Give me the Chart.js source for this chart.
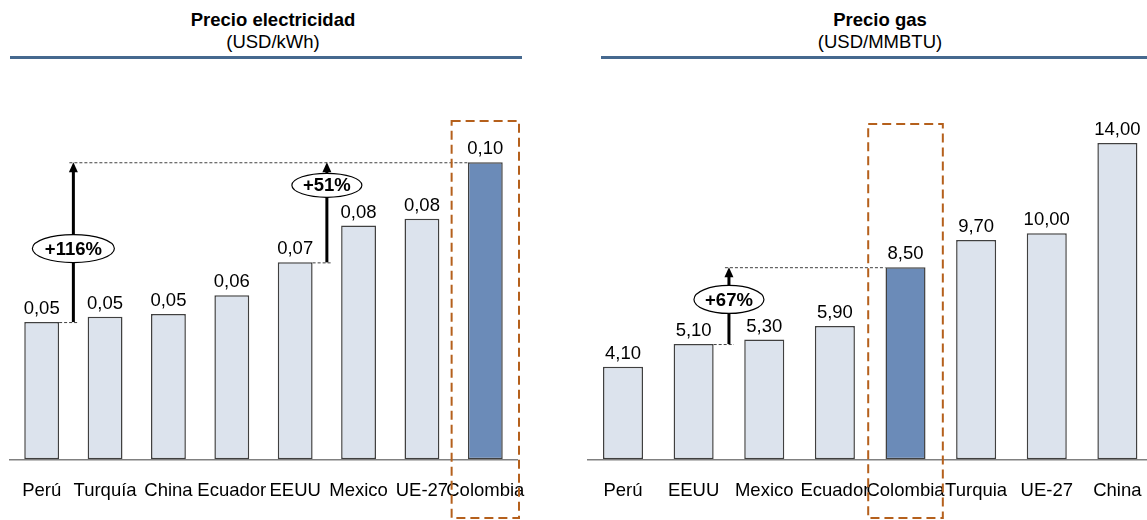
<!DOCTYPE html>
<html>
<head>
<meta charset="utf-8">
<script src="https://cdn.jsdelivr.net/npm/chart.js@4.4.1/dist/chart.umd.min.js"></script>
<style>
  html, body { margin: 0; padding: 0; background: #fff; overflow: hidden; }
  #wrap { position: relative; width: 1147px; height: 520px; overflow: hidden; }
  canvas { position: absolute; top: 0; }
  .title {
    position: absolute; top: 8.6px;
    font-family: "Liberation Sans", Arial, sans-serif; font-size: 18.5px; line-height: 22px;
    color: #000; text-align: center; white-space: nowrap; transform: translateX(-50%);
  }
  .title b { font-weight: bold; }
  .rule { position: absolute; top: 56px; height: 3px; background: #46698f; }
</style>
</head>
<body>
<div id="wrap">
  <div class="title" style="left:273px"><b>Precio electricidad</b><br>(USD/kWh)</div>
  <div class="rule" style="left:10px;width:512px"></div>
  <div class="title" style="left:880px"><b>Precio gas</b><br>(USD/MMBTU)</div>
  <div class="rule" style="left:601px;width:560px"></div>
  <canvas id="elec" width="560" height="540" style="left:0"></canvas>
  <canvas id="gas" width="600" height="540" style="left:580px"></canvas>
</div>
<script>
// Electricity price, USD/kWh
const elecCountries = ['Perú', 'Turquía', 'China', 'Ecuador', 'EEUU', 'Mexico', 'UE-27', 'Colombia'];
const elecPrices = [0.0462, 0.048, 0.0489, 0.0552, 0.0663, 0.0787, 0.081, 0.10];

// Gas price, USD/MMBTU
const gasCountries = ['Perú', 'EEUU', 'Mexico', 'Ecuador', 'Colombia', 'Turquia', 'UE-27', 'China'];
const gasPrices = [4.10, 5.10, 5.30, 5.90, 8.50, 9.70, 10.00, 14.00];

// Country highlighted in both charts and the countries it is compared against
const focusCountry = 'Colombia';
const elecBaselines = ['Perú', 'EEUU'];
const gasBaselines = ['EEUU'];

const FONT = '"Liberation Sans", Arial, sans-serif';
const LIGHT = '#dce3ed';
const DARK = '#6b8bb8';

function fmt(v) { return v.toFixed(2).replace('.', ','); }

// Value labels above each bar
const valueLabels = {
  id: 'valueLabels',
  afterDatasetsDraw(chart) {
    const ctx = chart.ctx;
    const meta = chart.getDatasetMeta(0);
    const vals = chart.data.datasets[0].data;
    ctx.save();
    ctx.font = '18.5px ' + FONT;
    ctx.fillStyle = '#000';
    ctx.textAlign = 'center';
    ctx.textBaseline = 'alphabetic';
    meta.data.forEach((bar, i) => ctx.fillText(fmt(vals[i]), bar.x, bar.y - 8));
    ctx.restore();
  }
};

// Arrows with the percentage gap between a baseline country and the focus country
const comparisons = {
  id: 'comparisons',
  afterDatasetsDraw(chart, args, opts) {
    const items = opts.items || [];
    if (!items.length) return;
    const ctx = chart.ctx;
    const xs = chart.scales.x, ys = chart.scales.y;
    const labels = chart.data.labels;
    const vals = chart.data.datasets[0].data;
    const meta = chart.getDatasetMeta(0);
    const t = labels.indexOf(focusCountry);
    const tBar = meta.data[t];
    const yTop = ys.getPixelForValue(vals[t]);
    const targetLeft = tBar.x - tBar.width / 2;

    ctx.save();
    ctx.strokeStyle = '#404040';
    ctx.lineWidth = 1;
    ctx.setLineDash([3, 2]);
    // shared top guide line at the focus country's level
    const xMin = Math.min(...items.map(it => xs.getPixelForValue(labels.indexOf(it.from) + 0.5)));
    ctx.beginPath();
    ctx.moveTo(xMin - 4, yTop + 0.5);
    ctx.lineTo(targetLeft, yTop + 0.5);
    ctx.stroke();
    ctx.restore();

    items.forEach(it => {
      const b = labels.indexOf(it.from);
      const bBar = meta.data[b];
      const x = xs.getPixelForValue(b + 0.5);
      const yBase = ys.getPixelForValue(vals[b]);
      const pct = Math.round((vals[t] / vals[b] - 1) * 100);

      ctx.save();
      // bottom guide line at the baseline country's level
      ctx.strokeStyle = '#404040';
      ctx.lineWidth = 1;
      ctx.setLineDash([3, 2]);
      ctx.beginPath();
      ctx.moveTo(bBar.x + bBar.width / 2, yBase + 0.5);
      ctx.lineTo(x + 5, yBase + 0.5);
      ctx.stroke();
      ctx.setLineDash([]);

      // arrow shaft and head
      ctx.strokeStyle = '#000';
      ctx.lineWidth = 3;
      ctx.beginPath();
      ctx.moveTo(x, yBase);
      ctx.lineTo(x, yTop + 9);
      ctx.stroke();
      ctx.fillStyle = '#000';
      ctx.beginPath();
      ctx.moveTo(x, yTop);
      ctx.lineTo(x - 4.5, yTop + 10);
      ctx.lineTo(x + 4.5, yTop + 10);
      ctx.closePath();
      ctx.fill();

      // oval badge with the percentage
      const cy = yBase + (yTop - yBase) * it.at;
      ctx.beginPath();
      ctx.ellipse(x, cy, it.rx, it.ry, 0, 0, Math.PI * 2);
      ctx.fillStyle = '#fff';
      ctx.fill();
      ctx.lineWidth = 1.2;
      ctx.strokeStyle = '#000';
      ctx.stroke();
      ctx.fillStyle = '#000';
      ctx.font = 'bold 18.5px ' + FONT;
      ctx.textAlign = 'center';
      ctx.textBaseline = 'middle';
      ctx.fillText('+' + pct + '%', x, cy + 1);
      ctx.restore();
    });
  }
};

// Dashed frame around the focus country's column
const focusFrame = {
  id: 'focusFrame',
  afterDraw(chart, args, opts) {
    const ctx = chart.ctx;
    const xs = chart.scales.x;
    const t = chart.data.labels.indexOf(focusCountry);
    const cx = chart.getDatasetMeta(0).data[t].x;
    const half = xs.width / chart.data.labels.length / 2 + 2;
    ctx.save();
    ctx.strokeStyle = '#b5601c';
    ctx.lineWidth = 2;
    ctx.setLineDash([9, 5]);
    ctx.strokeRect(cx - half, opts.top, half * 2, opts.bottom - opts.top);
    ctx.restore();
  }
};

function makeChart(id, labels, values, cfg) {
  return new Chart(document.getElementById(id), {
    type: 'bar',
    data: {
      labels: labels,
      datasets: [{
        data: values,
        backgroundColor: labels.map(l => l === focusCountry ? DARK : LIGHT),
        borderColor: '#404040',
        borderWidth: 1.5,
        borderSkipped: false,
        barPercentage: cfg.barPct,
        categoryPercentage: 1.0
      }]
    },
    options: {
      responsive: false,
      animation: false,
      devicePixelRatio: 1,
      layout: { padding: cfg.padding },
      plugins: {
        legend: { display: false },
        tooltip: { enabled: false },
        comparisons: { items: cfg.comparisons },
        focusFrame: { top: cfg.frameTop, bottom: 518 }
      },
      scales: {
        x: {
          grid: { display: false, drawTicks: false },
          border: { display: true, color: '#808080', width: 1.5 },
          ticks: {
            padding: 20.5, color: '#000', autoSkip: false, maxRotation: 0, minRotation: 0,
            font: { family: FONT, size: 18.5 }
          }
        },
        y: { display: false, min: 0, max: cfg.yMax }
      }
    },
    plugins: [valueLabels, comparisons, focusFrame]
  });
}

makeChart('elec', elecCountries, elecPrices, {
  barPct: 0.55,
  padding: { left: 10, right: 43, top: 88, bottom: 17.5 },
  yMax: 0.125,
  frameTop: 121,
  comparisons: [
    { from: elecBaselines[0], at: 0.46, rx: 41, ry: 14 },
    { from: elecBaselines[1], at: 0.77, rx: 35, ry: 12 }
  ]
});

makeChart('gas', gasCountries, gasPrices, {
  barPct: 0.567,
  padding: { left: 7.7, right: 27.3, top: 97.7, bottom: 17.5 },
  yMax: 16,
  frameTop: 124,
  comparisons: [
    { from: gasBaselines[0], at: 0.58, rx: 35, ry: 14 }
  ]
});
</script>
</body>
</html>
